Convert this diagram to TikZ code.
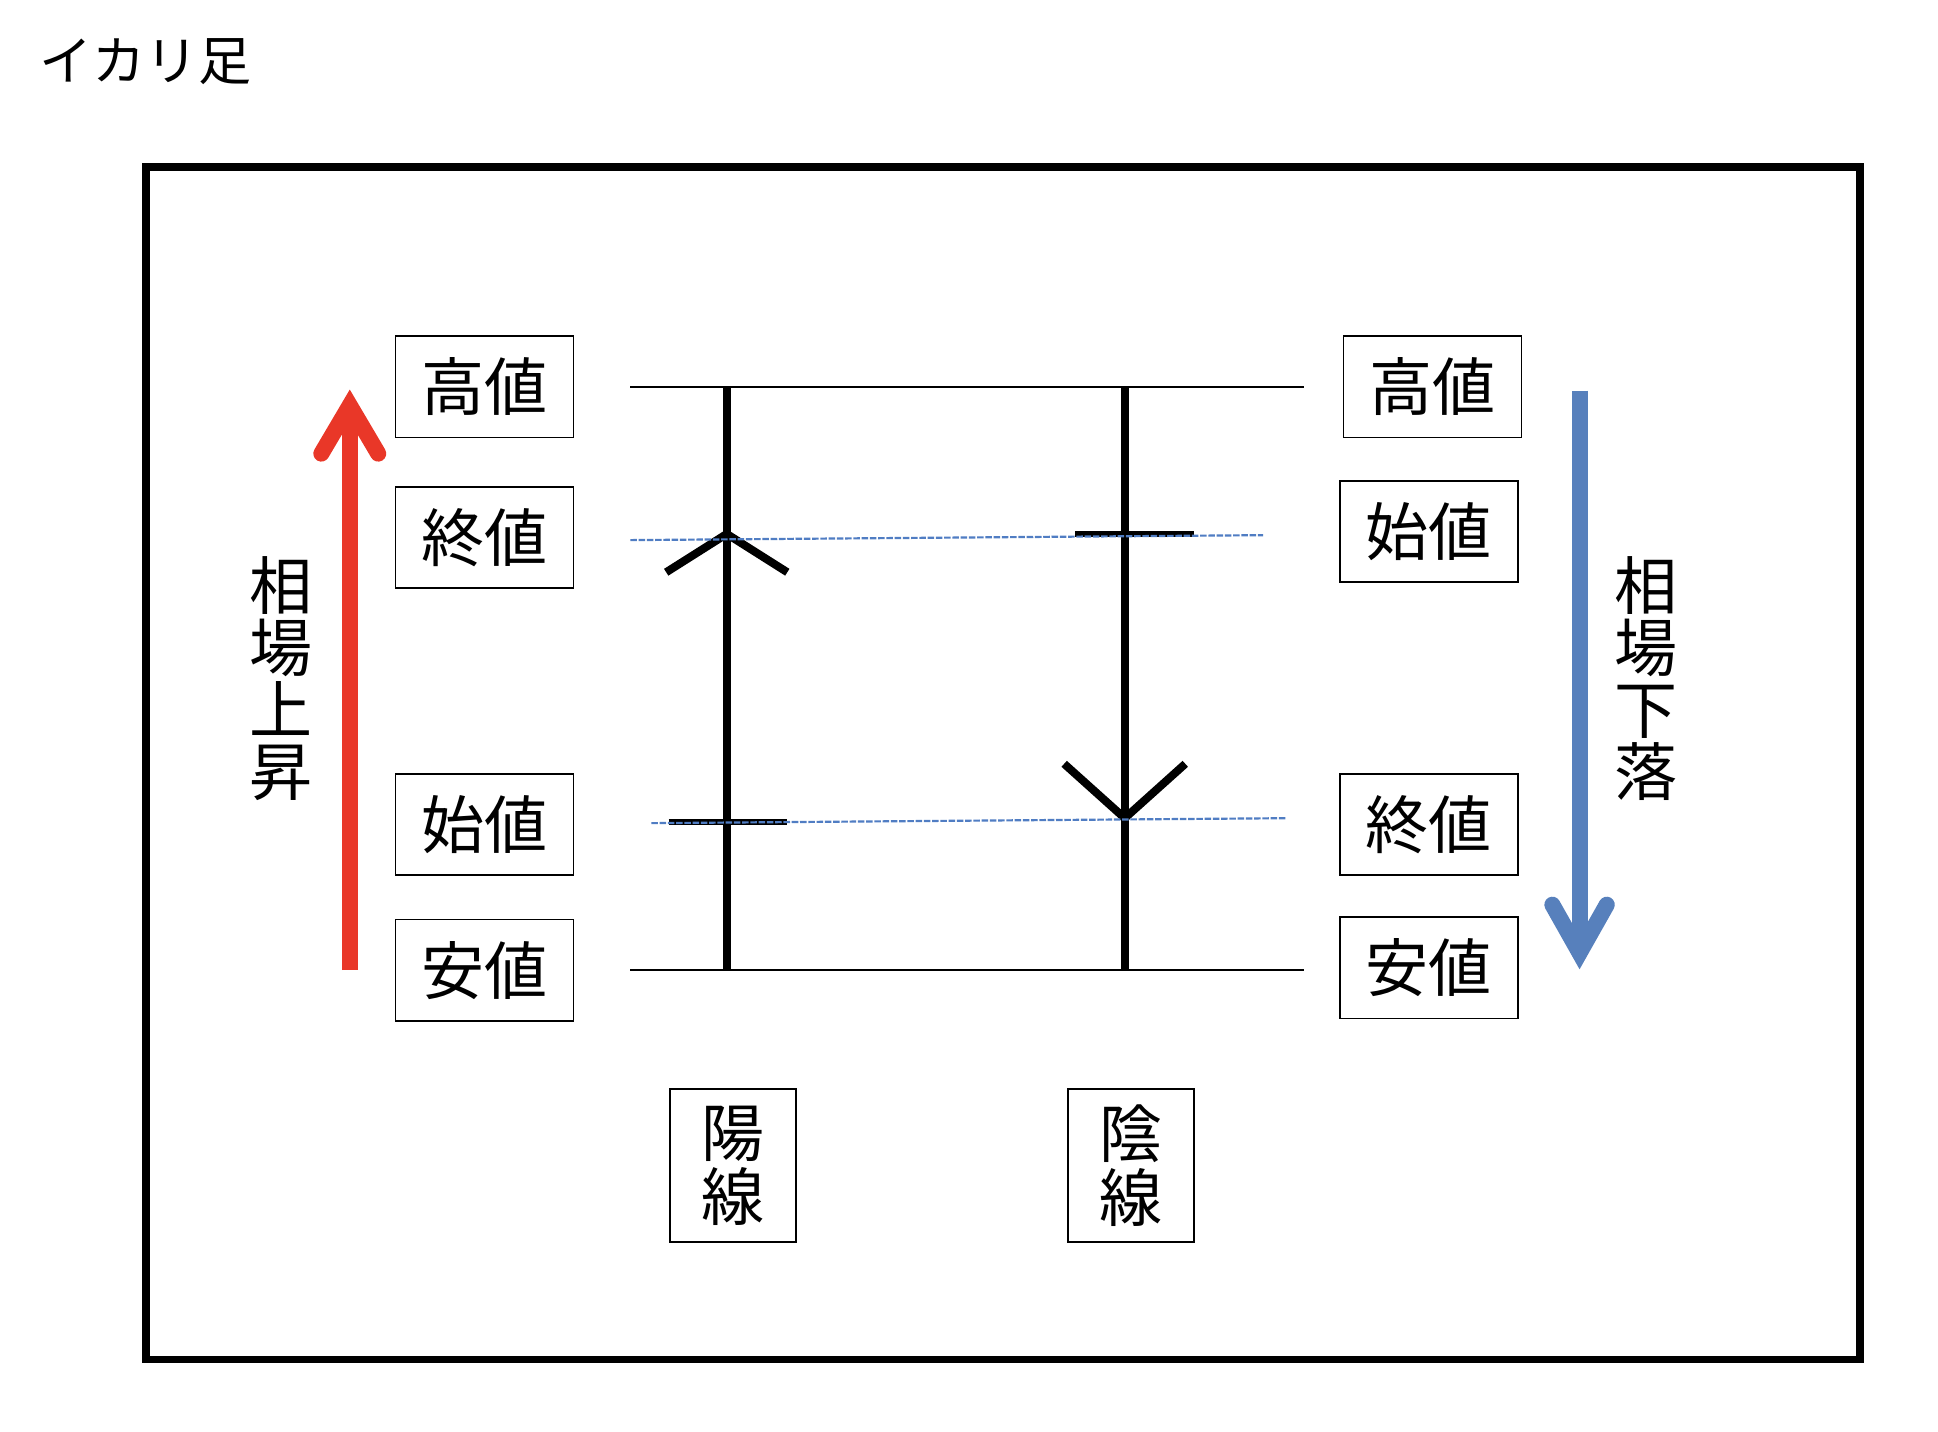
\documentclass[tikz,border=0pt]{standalone}
\usepackage{fontspec}
\setmainfont{Noto Sans CJK JP}
\usepackage{tikz}
\definecolor{upred}{RGB}{233,55,40}
\definecolor{downblue}{RGB}{87,128,188}
\definecolor{guideblue}{RGB}{80,125,195}

\begin{document}
\begin{tikzpicture}[x=0.01cm,y=-0.01cm,
  price node/.style={draw,line width=0.4pt,minimum width=1.44cm,minimum height=0.82cm,inner sep=0pt,font=\fontsize{14.5}{16}\selectfont},
  candle node/.style={draw,line width=0.4pt,minimum width=1.02cm,minimum height=1.24cm,inner sep=0pt,align=center,font=\fontsize{14.5}{14.8}\selectfont},
  trend node/.style={inner sep=0pt,align=center,font=\fontsize{14.5}{14.2}\selectfont},
  level/.style={line width=0.45pt},
  wick/.style={line width=1.85pt},
  price tick/.style={line width=1.4pt},
  guide/.style={guideblue,line width=0.5pt,dash pattern=on 1.5pt off 0.4pt},
  up arrow/.style={upred,line width=3.7pt},
  down arrow/.style={downblue,line width=3.7pt},
  head/.style={line cap=round,line join=miter}]

  \useasboundingbox (0,0) rectangle (1568,1158);
  \node[font=\fontsize{12.2}{14}\selectfont,inner sep=0pt] (title) at (118,50) {イカリ足};
  \draw[line width=1.7pt] (118,135) rectangle (1505,1100);

  \node[price node] (h1) at (392,313) {高値};
  \node[price node] (c1) at (392,435) {終値};
  \node[price node] (o1) at (392,667) {始値};
  \node[price node] (l1) at (392,785) {安値};
  \node[price node] (h2) at (1159,313) {高値};
  \node[price node] (o2) at (1156,430) {始値};
  \node[price node] (c2) at (1156,667) {終値};
  \node[price node] (l2) at (1156,783) {安値};
  \node[candle node] (yang) at (593,943) {陽\\線};
  \node[candle node] (yin) at (915,943) {陰\\線};
  \node[trend node] (rise) at (227,549) {相\\場\\上\\昇};
  \node[trend node] (fall) at (1332,549) {相\\場\\下\\落};

  \coordinate (hl) at (510,313); \coordinate (hr) at (1055,313);
  \coordinate (ll) at (510,785); \coordinate (lr) at (1055,785);
  \coordinate (w1t) at (588,313); \coordinate (w1b) at (588,785);
  \coordinate (w2t) at (910,313); \coordinate (w2b) at (910,785);
  \coordinate (o1l) at (541,665); \coordinate (o1r) at (637,665);
  \coordinate (o2l) at (870,432); \coordinate (o2r) at (966,432);

  \path[level] (hl) edge (hr) (ll) edge (lr);
  \path[wick] (w1t) edge (w1b) (w2t) edge (w2b);
  \path[price tick] (o1l) edge (o1r) (o2l) edge (o2r);
  \draw[wick,line join=miter] (539,463) -- (588,432) -- (637,463);
  \draw[wick,line join=miter] (861,618) -- (910,662) -- (959,618);
  \draw[guide] (510,437) -- (1022,433);
  \draw[guide] (527,666) -- (1040,662);

  \draw[up arrow] (283,785) -- (283,330);
  \draw[up arrow,head] (260,367) -- (283,328) -- (306,367);
  \draw[down arrow] (1278,316) -- (1278,770);
  \draw[down arrow,head] (1256,732) -- (1278,771) -- (1300,732);
\end{tikzpicture}
\end{document}
